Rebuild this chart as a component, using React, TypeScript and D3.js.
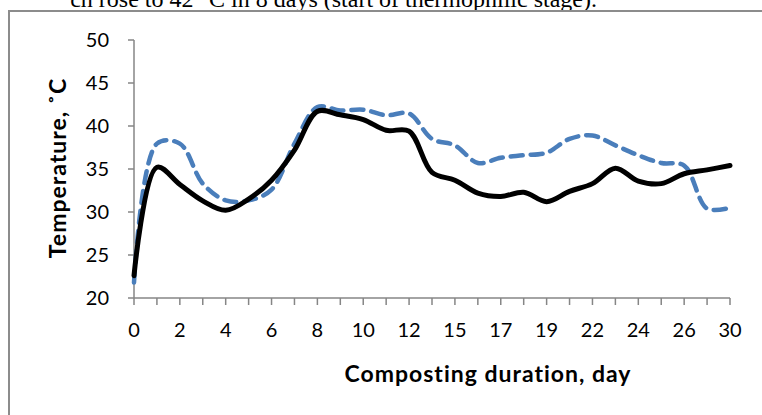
import React, { useEffect, useRef } from 'react';
import * as d3 from 'd3';

// composting days (category axis, only every other label is shown)
const days = ['0', '1', '2', '3', '4', '5', '6', '7', '8', '9', '10', '11', '12', '13', '15', '16', '17', '18', '19', '20', '22', '23', '24', '25', '26', '28', '30'];
const solidTemps = [22.6, 35.2, 33.2, 31.3, 30.2, 31.5, 33.7, 37.2, 41.7, 41.3, 40.75, 39.5, 39.4, 34.6, 33.7, 32.2, 31.8, 32.3, 31.2, 32.4, 33.3, 35.1, 33.6, 33.3, 34.45, 34.9, 35.4];
const dashedTemps = [21.8, 37.95, 37.95, 33.3, 31.35, 31.35, 32.6, 37.95, 42.2, 41.8, 41.9, 41.25, 41.45, 38.5, 37.75, 35.7, 36.3, 36.6, 36.9, 38.5, 38.9, 37.75, 36.6, 35.7, 35.4, 30.4, 30.5];
const yTicks = [20, 25, 30, 35, 40, 45, 50];

const App = () => {
    const svgRef = useRef(null);

    useEffect(() => {
        const svg = d3.select(svgRef.current);
        svg.selectAll('*').remove();

        const font = 'Lato, "Open Sans", sans-serif';
        const axisColor = '#868686';

        // bit of the paper text above the figure
        svg.append('text')
            .attr('x', 597)
            .attr('y', 7)
            .attr('text-anchor', 'end')
            .attr('font-family', '"Liberation Serif", "Times New Roman", serif')
            .attr('font-size', 24)
            .attr('fill', '#000')
            .text('ch rose to 42 °C in 8 days (start of thermophilic stage).');

        // figure frame
        svg.append('rect')
            .attr('x', 9)
            .attr('y', 11)
            .attr('width', 800)
            .attr('height', 500)
            .attr('fill', 'none')
            .attr('stroke', '#8c8c8c')
            .attr('stroke-width', 2);

        const x = d3.scalePoint().domain(days).range([134, 730]);
        const y = d3.scaleLinear().domain([20, 50]).range([298, 40]);

        // y axis
        const ya = svg.append('g');
        ya.append('line')
            .attr('x1', 134).attr('x2', 134)
            .attr('y1', y(50)).attr('y2', y(20))
            .attr('stroke', axisColor).attr('stroke-width', 1.5);
        ya.selectAll('.yt')
            .data(yTicks)
            .enter()
            .append('line')
            .attr('x1', 128).attr('x2', 134)
            .attr('y1', d => y(d)).attr('y2', d => y(d))
            .attr('stroke', axisColor).attr('stroke-width', 1.5);
        ya.selectAll('.yl')
            .data(yTicks)
            .enter()
            .append('text')
            .attr('x', 109)
            .attr('y', d => y(d))
            .attr('dy', '0.35em')
            .attr('text-anchor', 'end')
            .attr('font-family', font)
            .attr('font-size', 20)
            .text(d => d);

        // x axis
        const xa = svg.append('g');
        xa.append('line')
            .attr('x1', 134).attr('x2', 730)
            .attr('y1', 298).attr('y2', 298)
            .attr('stroke', axisColor).attr('stroke-width', 1.5);
        xa.selectAll('.xt')
            .data(days)
            .enter()
            .append('line')
            .attr('x1', d => x(d)).attr('x2', d => x(d))
            .attr('y1', 298).attr('y2', 305)
            .attr('stroke', axisColor).attr('stroke-width', 1.5);
        xa.selectAll('.xl')
            .data(days.filter((d, i) => i % 2 === 0))
            .enter()
            .append('text')
            .attr('x', d => x(d))
            .attr('y', 330)
            .attr('dy', '0.35em')
            .attr('text-anchor', 'middle')
            .attr('font-family', font)
            .attr('font-size', 20)
            .text(d => d);

        svg.append('text')
            .attr('x', 488)
            .attr('y', 382)
            .attr('text-anchor', 'middle')
            .attr('font-family', font)
            .attr('font-weight', 'bold')
            .attr('font-size', 23)
            .attr('letter-spacing', 1)
            .text('Composting duration, day');

        svg.append('text')
            .attr('transform', 'translate(66,168) rotate(-90)')
            .attr('text-anchor', 'middle')
            .attr('font-family', font)
            .attr('font-weight', 'bold')
            .attr('font-size', 23)
            .attr('letter-spacing', 1)
            .text('Temperature, ˚C');

        const line = (vals) => d3.line()
            .x((d, i) => x(days[i]))
            .y(d => y(d))
            .curve(d3.curveCatmullRom.alpha(0.5))(vals);

        svg.append('path')
            .attr('d', line(dashedTemps))
            .attr('fill', 'none')
            .attr('stroke', '#4a7ebb')
            .attr('stroke-width', 4.5)
            .attr('stroke-dasharray', '12,8')
            .attr('stroke-linecap', 'round');

        svg.append('path')
            .attr('d', line(solidTemps))
            .attr('fill', 'none')
            .attr('stroke', '#000')
            .attr('stroke-width', 5)
            .attr('stroke-linejoin', 'round')
            .attr('stroke-linecap', 'round');
    }, []);

    return (
        <div style={{ position: 'absolute', left: 0, top: 0 }}>
            <svg ref={svgRef} width={762} height={415} style={{ display: 'block' }}>
            </svg>
        </div>
    );
};

export default App;
